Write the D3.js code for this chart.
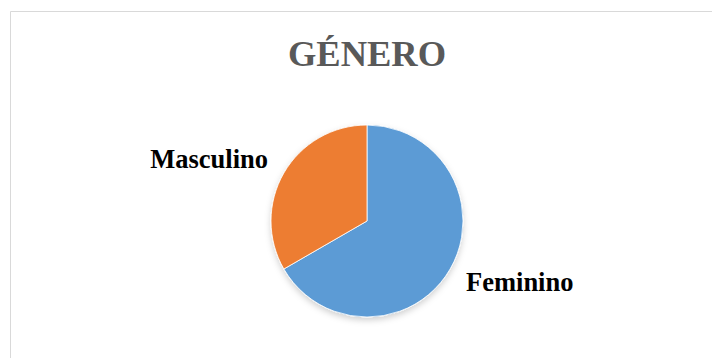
<!DOCTYPE html>
<html>
<head>
<meta charset="utf-8">
<script src="https://cdn.jsdelivr.net/npm/d3@7/dist/d3.min.js"></script>
<style>
  html, body { margin: 0; padding: 0; background: #fff; }
  svg { display: block; }
</style>
</head>
<body>
<svg id="chart" width="712" height="358"></svg>
<script>
// Gender split
const categories = ["Feminino", "Masculino"];
const values = [20, 10];
const colors = ["#5B9BD5", "#ED7D31"];
const title = "GÉNERO";

const W = 712, H = 358;
const cx = 367, cy = 221, R = 96;

const svg = d3.select("#chart");

// chart area frame (top and left edges visible)
svg.append("path")
  .attr("d", `M10.5,${H} L10.5,11.5 L${W},11.5`)
  .attr("fill", "none")
  .attr("stroke", "#d9d9d9")
  .attr("stroke-width", 1);

const defs = svg.append("defs");
const f = defs.append("filter").attr("id", "shadow")
  .attr("x", "-20%").attr("y", "-20%").attr("width", "140%").attr("height", "150%");
f.append("feDropShadow")
  .attr("dx", 0).attr("dy", 3).attr("stdDeviation", 3)
  .attr("flood-color", "#000").attr("flood-opacity", 0.18);

svg.append("text")
  .attr("x", cx)
  .attr("y", 66)
  .attr("text-anchor", "middle")
  .attr("font-family", "'Liberation Serif', 'Times New Roman', serif")
  .attr("font-weight", "bold")
  .attr("font-size", 36.5)
  .attr("fill", "#595959")
  .text(title);

const data = categories.map((c, i) => ({ name: c, value: values[i], color: colors[i] }));

const pie = d3.pie().value(d => d.value).sort(null);
const arc = d3.arc().innerRadius(0).outerRadius(R);
const arcs = pie(data);

const g = svg.append("g")
  .attr("transform", `translate(${cx},${cy})`)
  .attr("filter", "url(#shadow)");

g.selectAll("path")
  .data(arcs)
  .join("path")
  .attr("d", arc)
  .attr("fill", d => d.data.color)
  .attr("stroke", "#fff")
  .attr("stroke-width", 0.8);

// outside labels
svg.append("g")
  .attr("transform", `translate(${cx},${cy})`)
  .selectAll("text")
  .data(arcs)
  .join("text")
  .attr("x", d => d.data.name === "Feminino" ? 99 : -99)
  .attr("y", d => d.data.name === "Feminino" ? 70 : -53)
  .attr("text-anchor", d => d.data.name === "Feminino" ? "start" : "end")
  .attr("font-family", "'Liberation Serif', 'Times New Roman', serif")
  .attr("font-weight", "bold")
  .attr("font-size", 26.5)
  .attr("fill", "#000")
  .text(d => d.data.name);
</script>
</body>
</html>
